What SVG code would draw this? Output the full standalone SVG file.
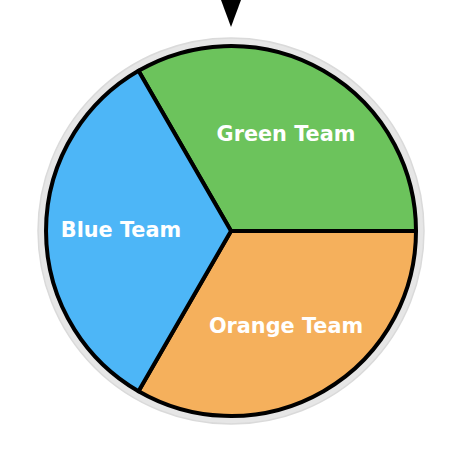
<svg xmlns="http://www.w3.org/2000/svg" width="462" height="462" viewBox="0 0 462 462">
<style>
.seg{stroke:#000;stroke-width:4;stroke-linejoin:round}
.lbl{font-family:"DejaVu Sans",sans-serif;font-weight:bold;font-size:20.8px;fill:#fff;text-anchor:middle;dominant-baseline:central}
</style>
<rect width="462" height="462" fill="#fff"/>
<circle cx="231" cy="231" r="193" fill="#e6e6e6" stroke="#dadada" stroke-width="1.5"/>
<g id="green">
<path class="seg" fill="#6cc35c" d="M231 231 L138.5 70.8 A185 185 0 0 1 416 231 Z"/>
<text class="lbl" x="286" y="134">Green Team</text>
</g>
<g id="orange">
<path class="seg" fill="#f5b05c" d="M231 231 L416 231 A185 185 0 0 1 138.5 391.2 Z"/>
<text class="lbl" x="286" y="326">Orange Team</text>
</g>
<g id="blue">
<path class="seg" fill="#4db6f7" d="M231 231 L138.5 391.2 A185 185 0 0 1 138.5 70.8 Z"/>
<text class="lbl" x="121" y="230">Blue Team</text>
</g>
<g id="connectors"></g>
<g id="pointer">
<polygon points="221,0 241,0 231,27" fill="#000"/>
</g>
</svg>
